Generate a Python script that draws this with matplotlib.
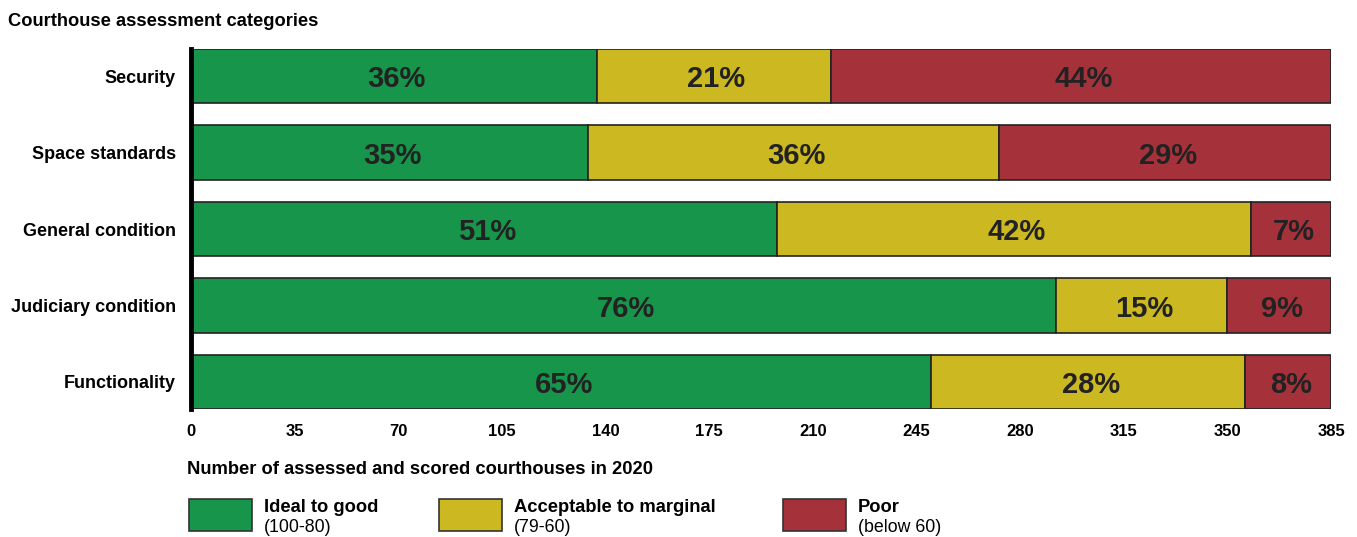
import numpy as np
import matplotlib.pyplot as plt
from matplotlib.patches import Rectangle

plt.rcParams['font.family'] = ['Liberation Sans', 'DejaVu Sans']

# data
categories = ['Security', 'Space standards', 'General condition',
              'Judiciary condition', 'Functionality']
ideal = np.array([137, 134, 198, 292, 250])
acceptable = np.array([79, 139, 160, 58, 106])
poor = np.array([169, 112, 27, 35, 29])
pct_ideal = ['36%', '35%', '51%', '76%', '65%']
pct_acceptable = ['21%', '36%', '42%', '15%', '28%']
pct_poor = ['44%', '29%', '7%', '9%', '8%']

series_names = ['Ideal to good', 'Acceptable to marginal', 'Poor']
series_notes = ['(100-80)', '(79-60)', '(below 60)']
colors = ['#17954a', '#ccb820', '#a5323b']
xticks = np.arange(0, 386, 35)

fig = plt.figure(figsize=(13.57, 5.37), dpi=100)
ax = fig.add_axes([191 / 1357, 1 - 409 / 537, 1140 / 1357, 360 / 537])

y = np.arange(len(categories))
left = np.zeros(len(categories))
for vals, labels, col in zip([ideal, acceptable, poor],
                             [pct_ideal, pct_acceptable, pct_poor], colors):
    ax.barh(y, vals, left=left, height=0.706, color=col,
            edgecolor='#222222', linewidth=1.2)
    for yi, l, v, lab in zip(y, left, vals, labels):
        ax.annotate(lab, (l + v / 2, yi), xytext=(2, -2.5),
                    textcoords='offset points', ha='center', va='center',
                    fontsize=21, fontweight='bold', color='#222222')
    left = left + vals

ax.set_ylim(len(categories) - 1 + 0.353, -0.353)
ax.set_xlim(0, 385)
ax.set_yticks(y)
ax.set_yticklabels(categories, fontsize=13, fontweight='bold',
                   va='center_baseline')
ax.set_xticks(xticks)
ax.set_xticklabels([str(t) for t in xticks], fontsize=12, fontweight='bold')
ax.tick_params(length=0, pad=11)
ax.tick_params(axis='y', pad=11)
for s in ['top', 'right', 'bottom']:
    ax.spines[s].set_visible(False)
ax.spines['left'].set_linewidth(3.5)
ax.spines['left'].set_color('black')

fig.text(8 / 1357, 1 - 19 / 537, 'Courthouse assessment categories',
         fontsize=13.2, fontweight='bold', va='center_baseline', ha='left')
fig.text(187 / 1357, 1 - 467 / 537,
         'Number of assessed and scored courthouses in 2020',
         fontsize=13.2, fontweight='bold', va='center_baseline', ha='left')

# legend drawn by hand
legend_x = [189, 439, 783]
for lx, name, note, col in zip(legend_x, series_names, series_notes, colors):
    fig.patches.append(Rectangle((lx / 1357, 1 - 531 / 537), 63 / 1357, 32 / 537,
                                 transform=fig.transFigure, facecolor=col,
                                 edgecolor='#333333', linewidth=1.2))
    fig.text((lx + 75) / 1357, 1 - 506 / 537, name, fontsize=13.2,
             fontweight='bold', va='center_baseline', ha='left')
    fig.text((lx + 75) / 1357, 1 - 526 / 537, note, fontsize=12.8,
             va='center_baseline', ha='left')

fig.savefig('out.png', dpi=100)
